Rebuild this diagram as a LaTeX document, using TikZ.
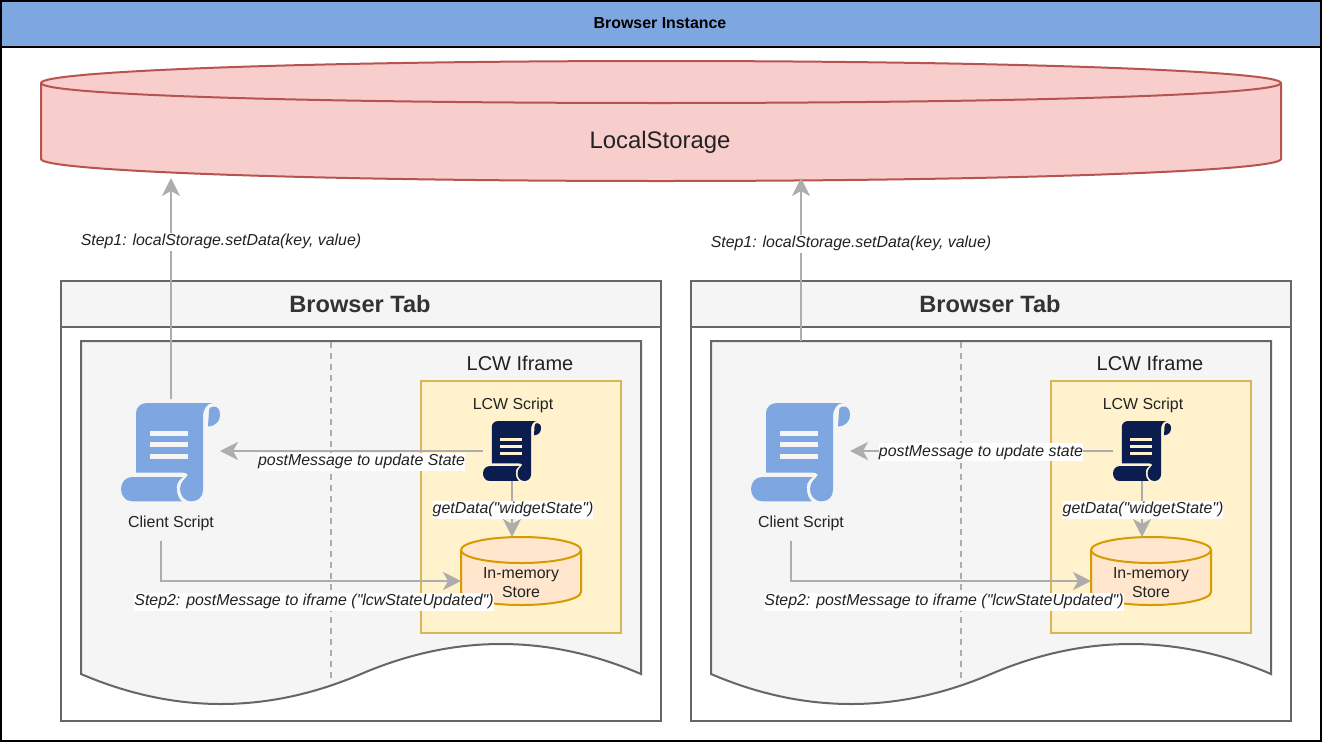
\documentclass[tikz,border=0pt]{standalone}
\usepackage{fontspec}
\setmainfont{Liberation Sans}[Ligatures=TeXOff]
\usetikzlibrary{arrows.meta}
\definecolor{hdr}{HTML}{7EA6E0}
\definecolor{tabfill}{HTML}{F5F5F5}
\definecolor{tabline}{HTML}{666666}
\definecolor{conn}{HTML}{ADADAD}
\definecolor{lsfill}{HTML}{F8CECC}
\definecolor{lsline}{HTML}{B85450}
\definecolor{yfill}{HTML}{FFF2CC}
\definecolor{yline}{HTML}{D6B656}
\definecolor{ofill}{HTML}{FFE6CC}
\definecolor{oline}{HTML}{D79B00}
\definecolor{navy}{HTML}{0B1C4F}
\definecolor{txt}{HTML}{222222}
\tikzset{
  conline/.style={draw=conn,line width=2pt,-{Stealth[length=18pt,width=18pt,inset=5pt]}},
  conlabel/.style={fill=white,inner sep=0pt,font=\fontsize{15.9}{18}\selectfont\itshape,text=txt,minimum height=18pt},
  plain/.style={inner sep=0pt,text=txt,font=\fontsize{15.9}{18}\selectfont,align=center},
  tabbox/.style={draw=tabline,line width=2pt},
  anchorbox/.style={inner sep=0pt,outer sep=0pt},
}
% x, y, x-scale, y-scale, fill, bar colour
\newcommand{\scrollicon}[6]{%
\begin{scope}[shift={(#1,#2)},xscale=#3,yscale=#4]
  \fill[#5] (15,10) .. controls (15,4) and (20,0) .. (26,0) -- (92,0)
    .. controls (86,0) and (82,6) .. (82,14) -- (82,87)
    .. controls (82,94) and (77,98.3) .. (70.5,98.3)
    .. controls (63,98.3) and (59,92) .. (59,86)
    .. controls (59,79) and (64,76) .. (67,72)
    .. controls (66,70) and (64,69.5) .. (61,69.5) -- (15,69.5) -- cycle;
  \fill[#5] (11,74) -- (62,74) .. controls (56,78) and (55,83) .. (56,88)
    .. controls (56.5,92) and (58,96) .. (61,98.3) -- (11,98.3)
    .. controls (4,98.3) and (0,92) .. (0,86)
    .. controls (0,79) and (5,74) .. (11,74) -- cycle;
  \fill[#5] (88,8) .. controls (88,4) and (91,3.5) .. (93,3.5)
    .. controls (96,3.5) and (99,6) .. (99,12)
    .. controls (99,18) and (95,23) .. (87,23.5) -- cycle;
  \fill[#6] (29,27.5) rectangle (67,32.5);
  \fill[#6] (29,39) rectangle (67,44);
  \fill[#6] (29,51) rectangle (67,56);
\end{scope}}
% prefix, x offset, post-message label, its x, its y, arrow start of step1 y, step1 label y
\newcommand{\tabgroup}[7]{%
\begin{scope}[xshift=#2pt]
  \node[anchorbox,minimum width=600pt,minimum height=440pt,anchor=north west] (#1tab) at (61,281) {};
  \fill[tabfill] (61,281) rectangle (661,327);
  \draw[tabbox] (61,281) rectangle (661,721);
  \draw[tabbox] (61,327) -- (661,327);
  \node[plain,font=\fontsize{23.6}{26}\selectfont\bfseries,text=black!80] (#1title) at (360,304.5) {Browser Tab};
  \draw[tabbox,fill=tabfill] (81,341) -- (641,341) -- (641,674)
    .. controls (547.67,634) and (454.33,634) .. (361,674)
    .. controls (267.67,714) and (174.33,714) .. (81,674) -- cycle;
  \coordinate (#1dashtop) at (331,342);
  \coordinate (#1dashbot) at (331,683);
  \draw[conn,line width=2pt,dash pattern=on 6pt off 5pt] (#1dashtop) -- (#1dashbot);
  \node[plain,font=\fontsize{20}{22}\selectfont] (#1ifr) at (520,363) {LCW Iframe};
  \draw[yline,fill=yfill,line width=2pt] (421,381) rectangle (621,633);
  \node[plain] (#1lcwl) at (513,405.5) {LCW Script};
  \scrollicon{121}{403}{1}{1}{hdr}{tabfill}
  \node[anchorbox,minimum width=99pt,minimum height=98pt,anchor=north west] (#1client) at (121,403) {};
  \node[plain] (#1cl) at (171,523.5) {Client Script};
  \scrollicon{483}{421}{0.586}{0.61}{navy}{yfill}
  \node[anchorbox,minimum width=58pt,minimum height=60pt,anchor=north west] (#1lcw) at (483,421) {};
  % in-memory cylinder
  \draw[oline,fill=ofill,line width=2pt] (461,550) -- (461,592)
     .. controls (461,599.2) and (487.9,605) .. (521,605)
     .. controls (554.1,605) and (581,599.2) .. (581,592) -- (581,550)
     .. controls (581,542.8) and (554.1,537) .. (521,537)
     .. controls (487.9,537) and (461,542.8) .. (461,550) -- cycle;
  \draw[oline,line width=2pt] (461,550) .. controls (461,557.2) and (487.9,563) .. (521,563)
     .. controls (554.1,563) and (581,557.2) .. (581,550);
  \node[anchorbox,minimum width=120pt,minimum height=68pt,anchor=north west] (#1mem) at (461,537) {};
  \node[plain] (#1memt) at (521,582.5) {In-memory\\[1pt]Store};
  % connectors
  \coordinate (#1ps) at (#1lcw.west |- 0,451);
  \coordinate (#1pe) at (#1client.east |- 0,451);
  \draw[conline] (#1ps) -- (#1pe);
  \node[conlabel] (#1pl) at (#4,#5) {#3};
  \coordinate (#1gs) at (512,481);
  \coordinate (#1ge) at (512,537);
  \draw[conline] (#1gs) -- (#1ge);
  \node[conlabel] (#1gl) at (513,509.5) {getData("widgetState")};
  \coordinate (#1ss) at (161,541);
  \coordinate (#1se) at (#1mem.west |- 0,581);
  \draw[conline] (#1ss) |- (#1se);
  \node[conlabel] (#1s2) at (314,601.5) {Step2: postMessage to iframe ("lcwStateUpdated")};
  \coordinate (#1us) at (171,#6);
  \coordinate (#1ue) at (171,178);
  \draw[conline] (#1us) -- (#1ue);
  \node[conlabel] (#1s1) at (221,#7) {Step1: localStorage.setData(key, value)};
\end{scope}}
\begin{document}
\begin{tikzpicture}[x=1pt,y=-1pt]
\useasboundingbox (0,0) rectangle (1322,742);
\fill[white] (0,0) rectangle (1322,742);
% outer frame
\node[anchorbox,anchor=north west,minimum width=1320pt,minimum height=46pt,fill=hdr] (head) at (1,1) {};
\node[plain,font=\fontsize{15.9}{18}\selectfont\bfseries,text=black] (headt) at (660,23.5) {Browser Instance};
\draw[black,line width=2pt] (1,1) rectangle (1321,741);
\draw[black,line width=2pt] (1,47) -- (1321,47);
% local storage
\draw[lsline,fill=lsfill,line width=2pt] (41,83) -- (41,159)
  .. controls (41,171.2) and (318.6,181) .. (661,181)
  .. controls (1003.4,181) and (1281,171.2) .. (1281,159) -- (1281,83)
  .. controls (1281,70.8) and (1003.4,61) .. (661,61)
  .. controls (318.6,61) and (41,70.8) .. (41,83) -- cycle;
\draw[lsline,line width=2pt] (41,83) .. controls (41,95.2) and (318.6,103) .. (661,103)
  .. controls (1003.4,103) and (1281,95.2) .. (1281,83);
\node[plain,font=\fontsize{23.9}{26}\selectfont] (ls) at (660,142) {LocalStorage};
\tabgroup{a}{0}{postMessage to update State}{361.5}{461.5}{399}{241.5}
\tabgroup{b}{630}{postMessage to update state}{351}{452}{341}{243.5}
\end{tikzpicture}
\end{document}
